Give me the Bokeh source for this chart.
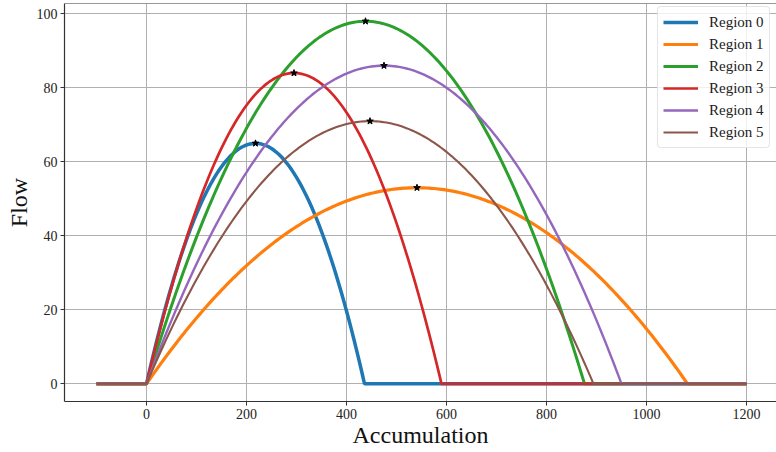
import numpy as np
from bokeh.plotting import figure
from bokeh.models import (Range1d, LinearAxis, FixedTicker, Legend, LegendItem, Grid, Span)
from bokeh.embed import file_html
from bokeh.resources import INLINE

# ---- data ----
regions = ["Region 0", "Region 1", "Region 2", "Region 3", "Region 4", "Region 5"]
critical_accumulation = [218, 541, 438, 295, 475, 447]   # accumulation at peak flow
peak_flow = [65, 53, 98, 84, 86, 71]                      # maximum flow (star markers)
jam_accumulation = [436, 1082, 876, 590, 950, 894]        # flow returns to zero
accumulation_start = -100
accumulation_end = 1200
x_ticks = [0, 200, 400, 600, 800, 1000, 1200]
y_ticks = [0, 20, 40, 60, 80, 100]

colors = ["#1f77b4", "#ff7f0e", "#2ca02c", "#d62728", "#9467bd", "#8c564b"]
widths = [3.5, 3.2, 3.0, 2.7, 2.4, 2.1]
FONT = "Liberation Serif"
Y_END = 102.8

p = figure(width=776, height=452, output_backend="svg", toolbar_location=None,
           x_range=Range1d(-164, 1260), y_range=Range1d(-4.78, Y_END),
           min_border_left=64, min_border_right=0, min_border_top=3,
           min_border_bottom=51, x_axis_type=None, y_axis_type=None)
p.outline_line_color = None
p.background_fill_color = "white"
p.border_fill_color = "white"

xa = LinearAxis(ticker=FixedTicker(ticks=x_ticks), axis_label="Accumulation")
ya = LinearAxis(ticker=FixedTicker(ticks=y_ticks), axis_label="Flow")
for ax in (xa, ya):
    ax.axis_line_color = "#333333"
    ax.axis_line_width = 1.2
    ax.major_tick_line_color = "#333333"
    ax.major_tick_out = 4
    ax.major_tick_in = 0
    ax.minor_tick_line_color = None
    ax.major_label_text_font = FONT
    ax.major_label_text_font_size = "14px"
    ax.major_label_text_color = "#222222"
    ax.axis_label_text_font = FONT
    ax.axis_label_text_font_size = "24px"
    ax.axis_label_text_font_style = "normal"
    ax.axis_label_text_color = "#111111"
xa.major_label_standoff = 3
xa.axis_label_standoff = 0
ya.major_label_standoff = 3
ya.axis_label_standoff = 2
p.add_layout(xa, "below")
p.add_layout(ya, "left")

for dim, ticks in ((0, x_ticks), (1, y_ticks)):
    g = Grid(dimension=dim, ticker=FixedTicker(ticks=ticks),
             grid_line_color="#b0b0b0", grid_line_width=1)
    p.add_layout(g)

# top spine only (the reference's right spine is cut off)
p.add_layout(Span(location=Y_END, dimension="width", line_color="#333333",
                  line_width=1.2))

n = np.unique(np.concatenate([np.arange(accumulation_start, accumulation_end + 1, 5.0),
                              [0.0]]))
items = []
for i, name in enumerate(regions):
    nc, qm, nj = critical_accumulation[i], peak_flow[i], jam_accumulation[i]
    pts = np.unique(np.concatenate([n, [nc, nj]]))
    q = np.where((pts >= 0) & (pts <= nj), qm * (1 - ((pts - nc) / nc) ** 2), 0.0)
    q = np.clip(q, 0, None)
    r = p.line(pts, q, line_color=colors[i], line_width=widths[i])
    items.append(LegendItem(label=name, renderers=[r]))

p.scatter(critical_accumulation, peak_flow, marker="star", size=7,
          fill_color="black", line_color="black")

legend = Legend(items=items, location=(593, 253))
legend.label_text_font = FONT
legend.label_text_font_size = "15px"
legend.label_text_color = "#222222"
legend.glyph_width = 35
legend.glyph_height = 20
legend.label_height = 20
legend.spacing = 2
legend.padding = 5
legend.margin = 0
legend.label_standoff = 11
legend.border_line_color = "#cccccc"
legend.border_line_width = 1
legend.background_fill_alpha = 0.8
try:
    legend.border_radius = 4
except Exception:
    pass
p.add_layout(legend, "center")

open("out.html", "w").write(file_html(p, INLINE))
